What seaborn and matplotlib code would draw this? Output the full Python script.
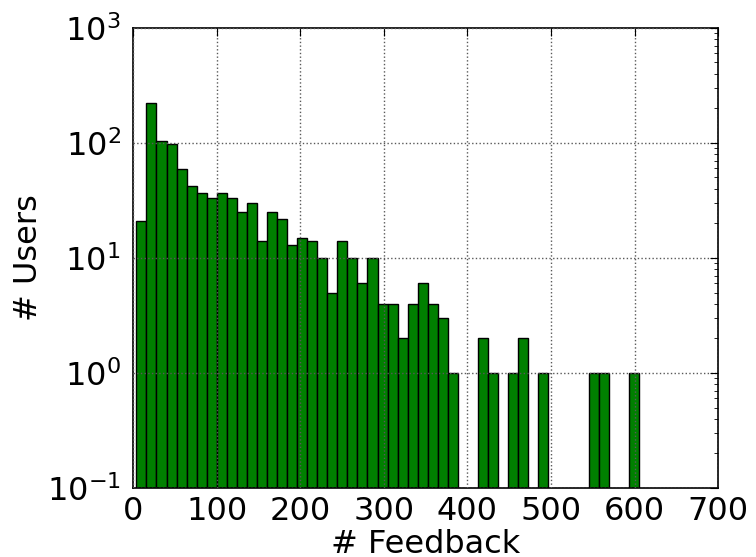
import numpy as np
import pandas as pd
import matplotlib
matplotlib.use('Agg')
import matplotlib.pyplot as plt
import seaborn as sns

# counts per bin (50 equal bins from ~4 to ~605)
counts = [21, 224, 103, 97, 59, 42, 37, 33, 37, 33,
          25, 30, 14, 25, 22, 13, 15, 14, 10, 5,
          14, 10, 6, 10, 4, 4, 2, 4, 6, 4,
          3, 1, 0, 0, 2, 1, 0, 1, 2, 0,
          1, 0, 0, 0, 0, 1, 1, 0, 0, 1]
bin_lo, bin_hi = 4, 605

edges = np.linspace(bin_lo, bin_hi, len(counts) + 1)
df = pd.DataFrame({'feedback': (edges[:-1] + edges[1:]) / 2, 'users': counts})

sns.set_style('white')
plt.rcParams['font.family'] = ['DejaVu Sans']
plt.rcParams['axes.unicode_minus'] = False
plt.rcParams['xtick.direction'] = 'in'
plt.rcParams['ytick.direction'] = 'in'

fig = plt.figure(figsize=(7.56, 5.57), dpi=100)
ax = fig.add_axes([0.176, 0.124, 0.774, 0.826])

sns.histplot(data=df, x='feedback', weights='users', bins=list(edges), ax=ax,
             color='#008000', alpha=1, edgecolor='black', linewidth=1)
ax.set_yscale('log')
ax.set_xlim(0, 700)
ax.set_ylim(0.1, 1000)
ax.set_xticks(range(0, 701, 100))

ax.grid(True, which='major', linestyle=':', color='0.35', linewidth=1)
ax.set_axisbelow(False)
ax.tick_params(which='both', top=True, right=True, labelsize=23, colors='black')
ax.tick_params(which='major', length=6)
ax.tick_params(which='minor', length=3)
ax.tick_params(axis='x', pad=6)
ax.tick_params(axis='y', pad=9)
for s in ax.spines.values():
    s.set_color('black')
    s.set_linewidth(1.2)

ax.set_xlabel('# Feedback', fontsize=23, labelpad=1, color='black')
ax.set_ylabel('# Users', fontsize=23, labelpad=2, color='black')

fig.savefig('out.png', dpi=100)
